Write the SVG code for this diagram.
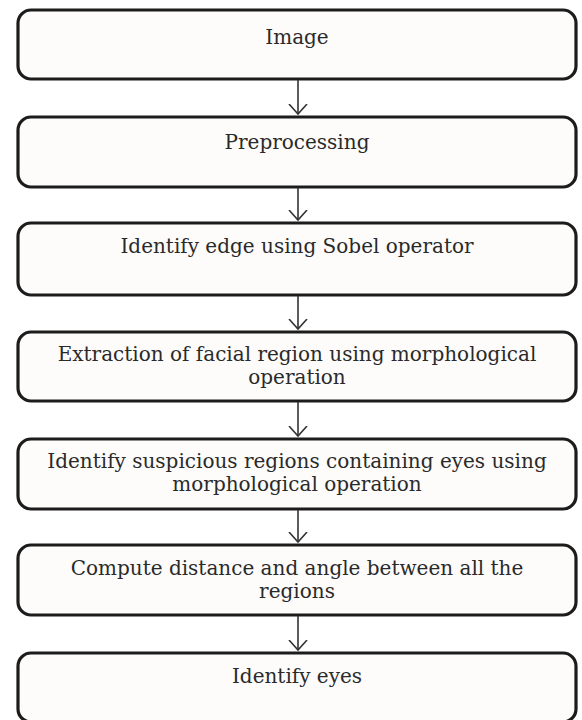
<svg xmlns="http://www.w3.org/2000/svg" width="582" height="720" viewBox="0 0 582 720">
  <defs>
    <style>
      .box { fill: #fdfcfb; stroke: #1c1c1c; stroke-width: 3.2; }
      .lbl { font-family: "DejaVu Serif", "Liberation Serif", serif; font-size: 20px; fill: #2a2a2a; text-anchor: middle; }
      .conn { stroke: #333333; stroke-width: 1.6; fill: none; }
    </style>
    <marker id="arr" markerWidth="20" markerHeight="20" refX="10" refY="10" orient="auto" markerUnits="userSpaceOnUse">
      <path d="M 0 1 L 10 10 L 0 19" fill="none" stroke="#333333" stroke-width="1.6"/>
    </marker>
  </defs>
  <rect width="582" height="720" fill="#ffffff"/>

  <g id="n1">
    <rect class="box" x="18" y="10" width="558" height="69" rx="13"/>
    <text class="lbl" x="297" y="44">Image</text>
  </g>
  <g id="n2">
    <rect class="box" x="18" y="117" width="558" height="70" rx="13"/>
    <text class="lbl" x="297" y="149">Preprocessing</text>
  </g>
  <g id="n3">
    <rect class="box" x="18" y="223" width="558" height="72" rx="13"/>
    <text class="lbl" x="297" y="253">Identify edge using Sobel operator</text>
  </g>
  <g id="n4">
    <rect class="box" x="18" y="332" width="558" height="69" rx="13"/>
    <text class="lbl" x="297" y="361">Extraction of facial region using morphological</text>
    <text class="lbl" x="297" y="384">operation</text>
  </g>
  <g id="n5">
    <rect class="box" x="18" y="439" width="558" height="70" rx="13"/>
    <text class="lbl" x="297" y="468">Identify suspicious regions containing eyes using</text>
    <text class="lbl" x="297" y="491">morphological operation</text>
  </g>
  <g id="n6">
    <rect class="box" x="18" y="545" width="558" height="70" rx="13"/>
    <text class="lbl" x="297" y="575">Compute distance and angle between all the</text>
    <text class="lbl" x="297" y="598">regions</text>
  </g>
  <g id="n7">
    <rect class="box" x="18" y="653" width="558" height="69" rx="13"/>
    <text class="lbl" x="297" y="683">Identify eyes</text>
  </g>

  <g id="connectors">
    <line class="conn" x1="298" y1="80" x2="298" y2="114" marker-end="url(#arr)"/>
    <line class="conn" x1="298" y1="188" x2="298" y2="220" marker-end="url(#arr)"/>
    <line class="conn" x1="298" y1="296" x2="298" y2="329" marker-end="url(#arr)"/>
    <line class="conn" x1="298" y1="402" x2="298" y2="436" marker-end="url(#arr)"/>
    <line class="conn" x1="298" y1="510" x2="298" y2="542" marker-end="url(#arr)"/>
    <line class="conn" x1="298" y1="616" x2="298" y2="650" marker-end="url(#arr)"/>
  </g>
</svg>
